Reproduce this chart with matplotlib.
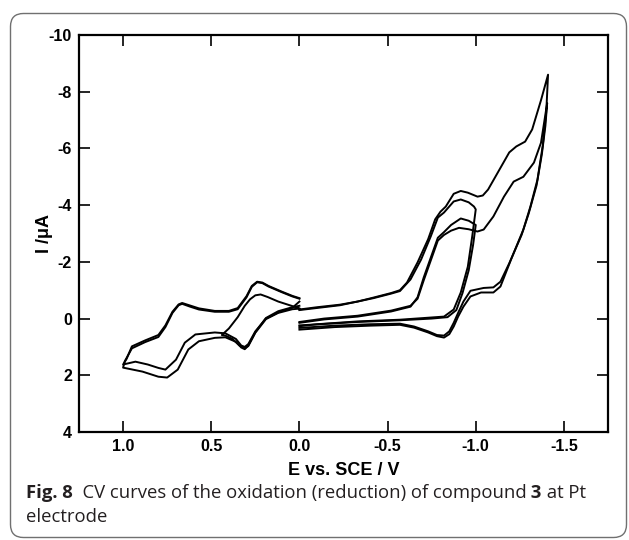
import matplotlib
matplotlib.use('Agg')
import matplotlib.pyplot as plt
from matplotlib.patches import FancyBboxPatch
from matplotlib.transforms import IdentityTransform

# oxidation side: small loop (0 -> 0.44 -> 0) and two full cycles (0 -> 1.0 -> 0)
s_E = [0.0, 0.04, 0.12, 0.19, 0.25, 0.29, 0.31, 0.34, 0.38, 0.42, 0.44, 0.40, 0.35, 0.31, 0.28, 0.25, 0.22, 0.18, 0.12, 0.06, 0.02, 0.0]
s_I = [-0.35, -0.33, -0.20, 0.02, 0.50, 0.97, 1.05, 0.95, 0.72, 0.60, 0.58, 0.35, -0.05, -0.45, -0.68, -0.82, -0.85, -0.76, -0.60, -0.48, -0.40, -0.35]

b1_E = [0.0, 0.04, 0.12, 0.19, 0.25, 0.29, 0.31, 0.33, 0.36, 0.42, 0.48, 0.57, 0.63, 0.69, 0.75, 0.80, 0.89, 1.0,
        0.99, 0.95, 0.875, 0.80, 0.76, 0.72, 0.685, 0.665, 0.62, 0.57, 0.48, 0.40, 0.35, 0.30, 0.27, 0.24, 0.21, 0.175, 0.10, 0.04, 0.0]
b1_I = [-0.45, -0.40, -0.26, -0.02, 0.48, 0.95, 1.08, 1.02, 0.82, 0.66, 0.68, 0.80, 1.09, 1.80, 2.08, 2.05, 1.87, 1.73,
        1.50, 1.05, 0.83, 0.65, 0.30, -0.20, -0.47, -0.52, -0.42, -0.32, -0.24, -0.24, -0.33, -0.75, -1.12, -1.28, -1.25, -1.13, -0.93, -0.78, -0.70]

b2_E = [0.0, 0.04, 0.12, 0.19, 0.25, 0.29, 0.31, 0.33, 0.36, 0.42, 0.48, 0.59, 0.65, 0.70, 0.76, 0.80, 0.86, 0.93, 1.0,
        0.98, 0.95, 0.875, 0.80, 0.76, 0.72, 0.685, 0.665, 0.62, 0.57, 0.48, 0.40, 0.35, 0.30, 0.27, 0.24, 0.21, 0.175, 0.10, 0.04, 0.0]
b2_I = [-0.60, -0.38, -0.22, 0.0, 0.45, 0.90, 1.00, 0.95, 0.72, 0.52, 0.49, 0.56, 0.85, 1.45, 1.80, 1.74, 1.62, 1.52, 1.62,
        1.42, 0.98, 0.77, 0.58, 0.24, -0.24, -0.50, -0.55, -0.46, -0.36, -0.27, -0.27, -0.37, -0.79, -1.15, -1.30, -1.27, -1.15, -0.95, -0.80, -0.72]

# reduction side: two cycles to -1.0 V and two cycles to -1.4 V
r1a_E = [0.0, -0.23, -0.42, -0.52, -0.57, -0.63, -0.69, -0.745, -0.785, -0.82, -0.875, -0.915, -0.96, -0.99, -1.0,
         -0.98, -0.955, -0.915, -0.875, -0.82, -0.73, -0.57, -0.33, -0.10, 0.0]
r1a_I = [-0.30, -0.47, -0.72, -0.88, -0.97, -1.38, -2.08, -2.90, -3.56, -3.74, -4.13, -4.20, -4.10, -3.95, -3.85,
         -2.90, -1.83, -0.92, -0.32, -0.07, -0.03, 0.04, 0.10, 0.20, 0.27]

r1b_E = [0.0, -0.14, -0.33, -0.52, -0.63, -0.67, -0.705, -0.745, -0.785, -0.82, -0.86, -0.915, -0.96, -1.0,
         -0.985, -0.96, -0.925, -0.89, -0.84, -0.75, -0.57, -0.33, 0.0]
r1b_I = [0.15, 0.03, -0.07, -0.25, -0.42, -0.75, -1.45, -2.15, -2.85, -3.05, -3.30, -3.53, -3.45, -3.30,
         -2.60, -1.70, -0.90, -0.30, -0.05, 0.0, 0.06, 0.12, 0.24]

r2a_E = [0.0, -0.10, -0.23, -0.33, -0.42, -0.52, -0.57, -0.61, -0.67, -0.73, -0.77, -0.80, -0.83, -0.875, -0.915, -0.955,
         -1.01, -1.04, -1.07, -1.125, -1.19, -1.23, -1.28, -1.32, -1.37, -1.41,
         -1.40, -1.38, -1.35, -1.31, -1.27, -1.20, -1.14, -1.10, -1.03, -0.97, -0.93, -0.90, -0.875, -0.85, -0.82,
         -0.78, -0.73, -0.65, -0.57, -0.40, -0.20, 0.0]
r2a_I = [-0.32, -0.40, -0.49, -0.60, -0.74, -0.90, -1.00, -1.27, -1.98, -2.80, -3.50, -3.77, -3.95, -4.40, -4.50, -4.44,
         -4.30, -4.34, -4.55, -5.15, -5.86, -6.07, -6.24, -6.67, -7.70, -8.60,
         -7.30, -6.10, -4.90, -3.95, -3.14, -2.08, -1.13, -0.92, -0.92, -0.78, -0.42, -0.07, 0.28, 0.55, 0.67,
         0.62, 0.49, 0.32, 0.22, 0.25, 0.30, 0.39]

r2b_E = [0.0, -0.14, -0.33, -0.52, -0.63, -0.67, -0.705, -0.745, -0.785, -0.82, -0.86, -0.905, -0.96, -1.01, -1.045,
         -1.10, -1.16, -1.215, -1.27, -1.33, -1.37, -1.405,
         -1.395, -1.375, -1.345, -1.30, -1.26, -1.19, -1.14, -1.10, -1.045, -0.97, -0.93, -0.90, -0.875, -0.85, -0.82,
         -0.78, -0.73, -0.65, -0.57, -0.40, -0.20, 0.0]
r2b_I = [0.12, 0.0, -0.10, -0.28, -0.45, -0.70, -1.35, -2.05, -2.75, -2.95, -3.10, -3.20, -3.15, -3.07, -3.14,
         -3.60, -4.30, -4.83, -5.00, -5.50, -6.20, -7.60,
         -6.80, -5.80, -4.70, -3.70, -2.95, -1.95, -1.30, -1.10, -1.08, -0.98, -0.60, -0.20, 0.15, 0.45, 0.60,
         0.58, 0.45, 0.28, 0.18, 0.20, 0.25, 0.33]

x_ticks = [1.0, 0.5, 0.0, -0.5, -1.0, -1.5]
x_labels = ['1.0', '0.5', '0.0', '-0.5', '-1.0', '-1.5']
y_ticks = [-10, -8, -6, -4, -2, 0, 2, 4]
y_labels = ['-10', '-8', '-6', '-4', '-2', '0', '2', '4']

W, H = 629, 540
fig = plt.figure(figsize=(W / 100, H / 100), dpi=100)
ax = fig.add_axes([79 / W, 1 - 432 / H, (608 - 79) / W, (432 - 35) / H])

for E, I in [(s_E, s_I), (b1_E, b1_I), (b2_E, b2_I), (r1a_E, r1a_I), (r1b_E, r1b_I), (r2a_E, r2a_I), (r2b_E, r2b_I)]:
    ax.plot(E, I, color='black', lw=1.4, solid_joinstyle='round')

ax.set_xlim(1.25, -1.75)
ax.set_ylim(4, -10)
ax.set_xticks(x_ticks)
ax.set_xticklabels(x_labels)
ax.set_yticks(y_ticks)
ax.set_yticklabels(y_labels)
ax.tick_params(direction='in', length=8, width=1.2, top=True, right=True, pad=5)
for lab in ax.get_xticklabels() + ax.get_yticklabels():
    lab.set_fontfamily('Liberation Sans')
    lab.set_fontweight('bold')
    lab.set_fontsize(11.5)
for sp in ax.spines.values():
    sp.set_linewidth(1.6)

ax.set_xlabel('E vs. SCE / V', fontfamily='Liberation Sans', fontweight='bold', fontsize=13, labelpad=6)
ax.set_ylabel('I /\u03bcA', fontfamily='Liberation Sans', fontweight='bold', fontsize=13, labelpad=-3)

# rounded frame around the figure + caption
frame = FancyBboxPatch((10.5, 2.5), 616, 524, boxstyle='round,pad=0,rounding_size=13',
                       transform=IdentityTransform(), fill=False, ec='#707070', lw=1.0)
fig.add_artist(frame)

fig.canvas.draw()
r = fig.canvas.get_renderer()
cap_color = '#231f20'
x = 26 / W
parts = [('Fig. 8', 'bold'), ('  CV curves of the oxidation (reduction) of compound', 'normal'),
         (' 3', 'bold'), (' at Pt', 'normal')]
for txt, wt in parts:
    t = fig.text(x, 42 / H, txt, fontfamily='Open Sans', fontweight=wt, fontsize=13.3, color=cap_color)
    x = t.get_window_extent(renderer=r).x1 / W
fig.text(26 / W, 18 / H, 'electrode', fontfamily='Open Sans', fontsize=13.3, color=cap_color)

fig.savefig('out.png', dpi=100)
